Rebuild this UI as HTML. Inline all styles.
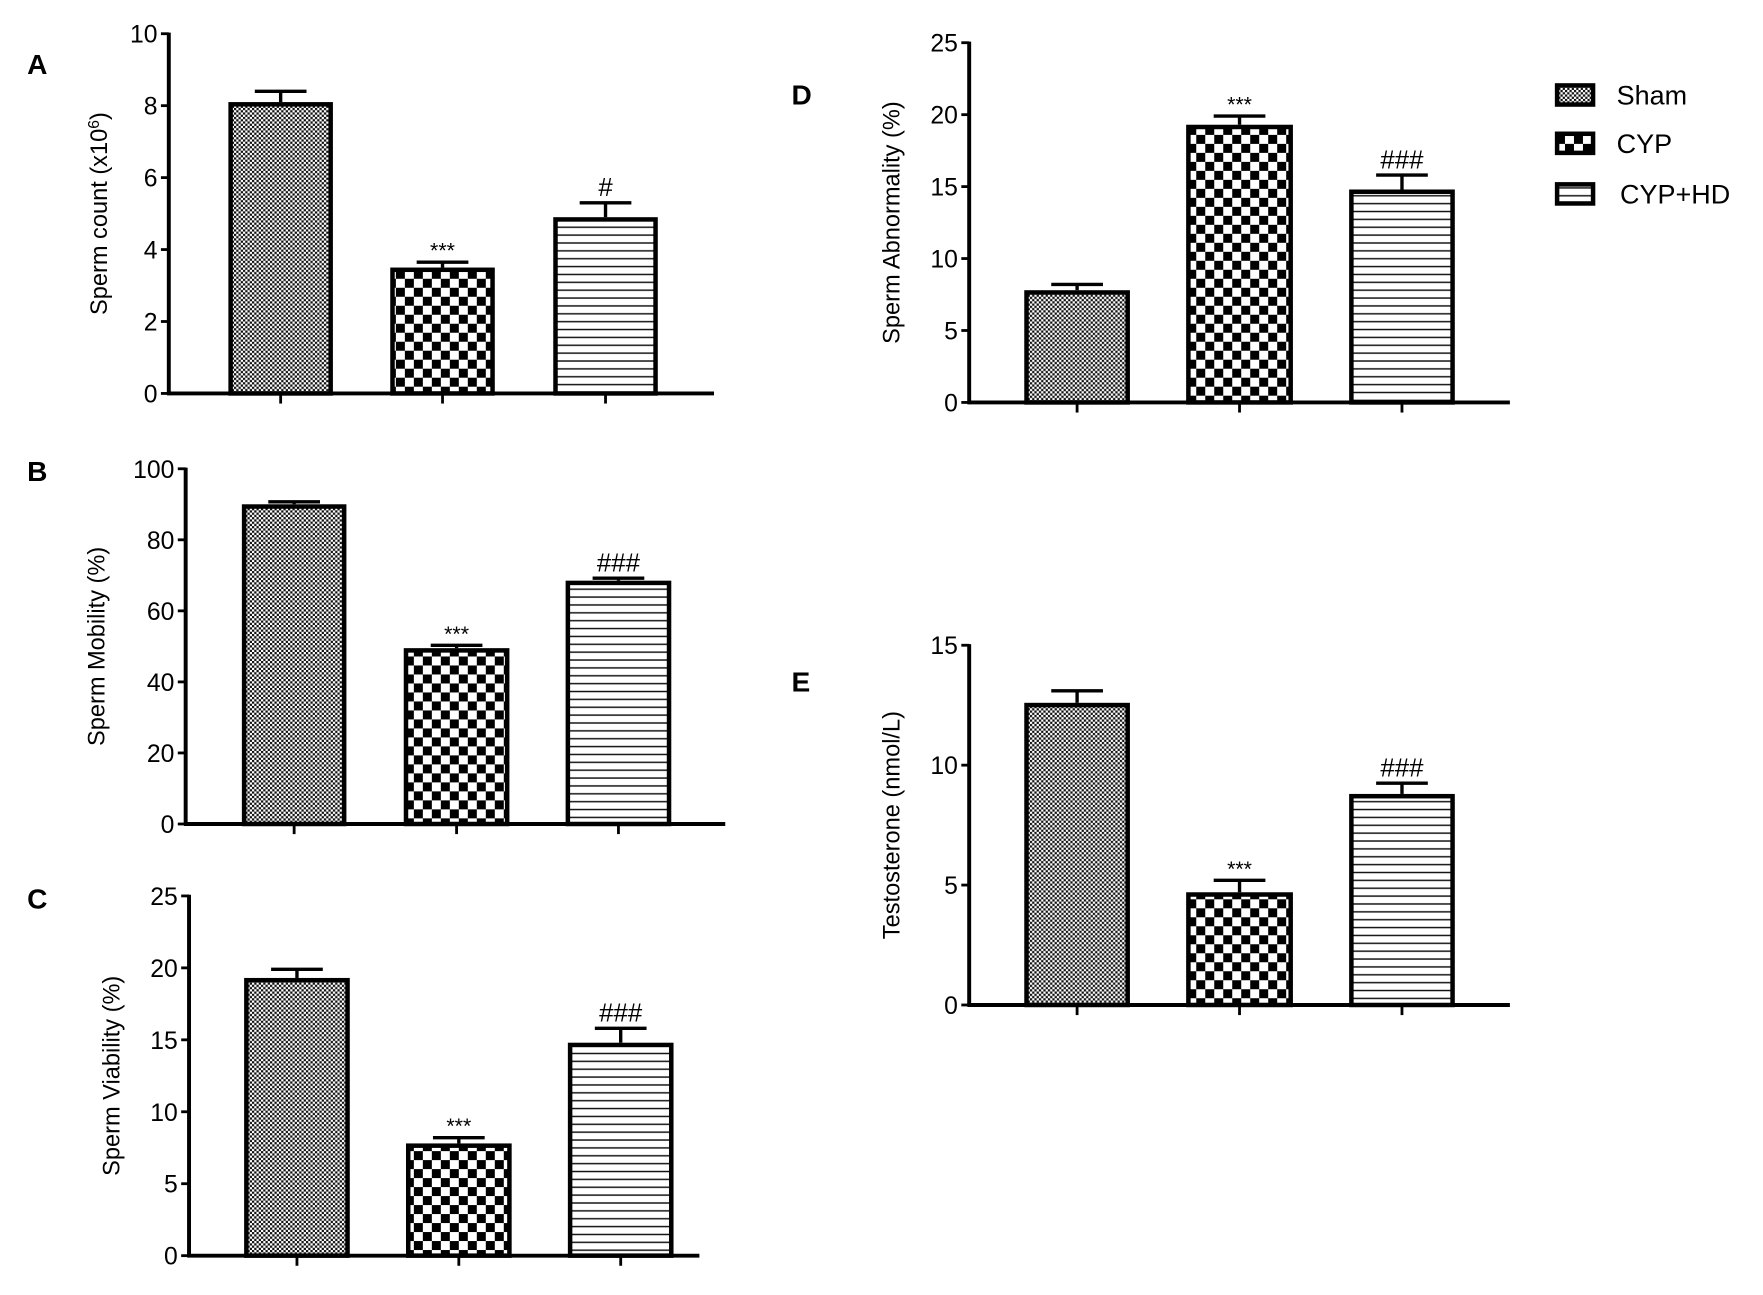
<!DOCTYPE html>
<html><head><meta charset="utf-8"><style>
html,body{margin:0;padding:0;background:#fff}
svg{display:block}
text{font-family:"Liberation Sans",Arial,sans-serif;fill:#000}
</style></head><body>
<svg id="s" width="1763" height="1295" viewBox="0 0 1568 1152" xmlns="http://www.w3.org/2000/svg">
<defs>
<pattern id="pSham" width="4" height="4" patternUnits="userSpaceOnUse">
<rect width="4" height="4" fill="#fff"/><rect width="2" height="2" fill="#111"/><rect x="2" y="2" width="2" height="2" fill="#111"/>
</pattern>
<pattern id="pCyp" width="16" height="16" patternUnits="userSpaceOnUse">
<rect width="16" height="16" fill="#fff"/><rect width="8" height="8" fill="#000"/><rect x="8" y="8" width="8" height="8" fill="#000"/>
</pattern>
<pattern id="pHd" width="8" height="7" patternUnits="userSpaceOnUse">
<rect width="8" height="7" fill="#fff"/><rect y="5.5" width="8" height="1.3" fill="#111"/>
</pattern>
</defs>
</svg>
<script>
var s=document.getElementById('s'),h='';
function P(o){
 var sc=(o.y0-o.y1)/o.max;
 h+='<line x1="'+o.ax+'" y1="'+(o.y1-1)+'" x2="'+o.ax+'" y2="'+(o.y0+1.5)+'" stroke="#000" stroke-width="3.5"/>';
 h+='<line x1="'+(o.ax-1.5)+'" y1="'+o.y0+'" x2="'+o.xe+'" y2="'+o.y0+'" stroke="#000" stroke-width="3.5"/>';
 for(var v=0;v<=o.max;v+=o.step){var y=o.y0-v*sc;
  h+='<line x1="'+(o.ax-7)+'" y1="'+y+'" x2="'+o.ax+'" y2="'+y+'" stroke="#000" stroke-width="2.5"/>';
  h+='<text x="'+(o.ax-10)+'" y="'+(y+8)+'" font-size="22" text-anchor="end">'+v+'</text>';}
 var pats=['pSham','pCyp','pHd'];
 o.bars.forEach(function(b,i){var top=o.y0-b[2]*sc,et=o.y0-b[3]*sc,cx=(b[0]+b[1])/2;
  h+='<line x1="'+cx+'" y1="'+top+'" x2="'+cx+'" y2="'+et+'" stroke="#000" stroke-width="3"/>';
  h+='<line x1="'+(cx-23)+'" y1="'+et+'" x2="'+(cx+23)+'" y2="'+et+'" stroke="#000" stroke-width="3"/>';
  h+='<rect x="'+(b[0]+2)+'" y="'+(top+2)+'" width="'+(b[1]-b[0]-4)+'" height="'+(o.y0-top-2)+'" fill="url(#'+pats[i]+')" stroke="#000" stroke-width="4"/>';
  h+='<line x1="'+cx+'" y1="'+o.y0+'" x2="'+cx+'" y2="'+(o.y0+9)+'" stroke="#000" stroke-width="2.5"/>';
  if(b[4]){var big=b[4].indexOf('#')>=0;h+='<text x="'+cx+'" y="'+(et-(big?6:4))+'" font-size="'+(big?23:19)+'" text-anchor="middle">'+b[4]+'</text>';}
 });
 h+='<text transform="translate('+o.lx+','+((o.y0+o.y1)/2)+') rotate(-90)" font-size="21" text-anchor="middle">'+o.label+'</text>';
 h+='<text x="'+o.Lx+'" y="'+o.Ly+'" font-size="25" font-weight="bold">'+o.L+'</text>';
}
P({ax:150,y0:350,y1:30,max:10,step:2,xe:635,lx:95,label:'Sperm count (x10<tspan baseline-shift="super" font-size="14">6</tspan>)',L:'A',Lx:24,Ly:66,
 bars:[[203,296,8.1,8.4],[347,440,3.5,3.65,'***'],[492,585,4.9,5.3,'#']]});
P({ax:165,y0:733,y1:417,max:100,step:20,xe:645,lx:93,label:'Sperm Mobility (%)',L:'B',Lx:24,Ly:428,
 bars:[[215,308,90,90.7],[359,453,49.5,50.3,'***'],[503,597,68.5,69.2,'###']]});
P({ax:168,y0:1117,y1:797,max:25,step:5,xe:622,lx:106,label:'Sperm Viability (%)',L:'C',Lx:24,Ly:808,
 bars:[[217,311,19.3,19.9],[361,455,7.8,8.2,'***'],[505,599,14.8,15.8,'###']]});
P({ax:862,y0:358,y1:38,max:25,step:5,xe:1343,lx:800,label:'Sperm Abnormality (%)',L:'D',Lx:704,Ly:93,
 bars:[[911,1005,7.8,8.2],[1055,1150,19.3,19.9,'***'],[1200,1294,14.8,15.8,'###']]});
P({ax:862,y0:894,y1:574,max:15,step:5,xe:1343,lx:800,label:'Testosterone (nmol/L)',L:'E',Lx:704,Ly:615,
 bars:[[911,1005,12.6,13.1],[1055,1150,4.7,5.2,'***'],[1200,1294,8.8,9.25,'###']]});
[['pSham','Sham',74],['pCyp','CYP',117],['pHd','CYP+HD',162]].forEach(function(l,i){
 h+='<rect x="1385" y="'+(l[2]+2)+'" width="32" height="17" fill="url(#'+l[0]+')" stroke="#000" stroke-width="4"/>';
 h+='<text x="'+(i==2?1441:1438)+'" y="'+(l[2]+19)+'" font-size="24">'+l[1]+'</text>';
});
s.insertAdjacentHTML('beforeend',h);
</script>
</body></html>
